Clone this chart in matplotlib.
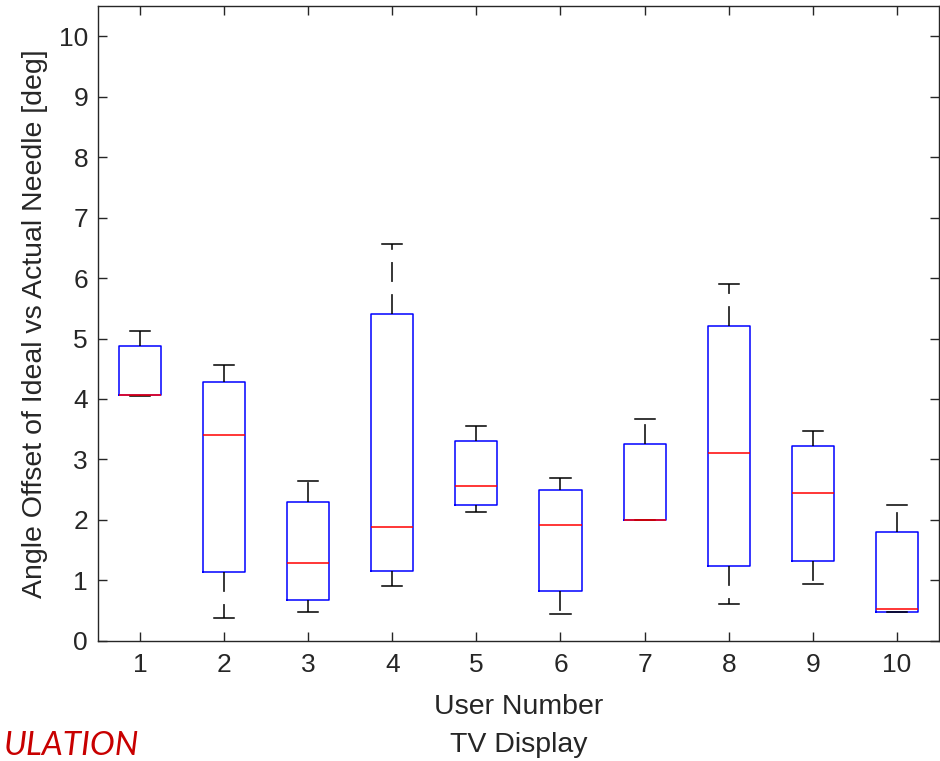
import matplotlib
matplotlib.use('Agg')
import matplotlib.pyplot as plt

plt.rcParams['font.family'] = ['Liberation Sans', 'DejaVu Sans']

users = [1, 2, 3, 4, 5, 6, 7, 8, 9, 10]
whislo = [4.05, 0.38, 0.47, 0.91, 2.13, 0.45, 2.00, 0.61, 0.94, 0.47]
q1 = [4.06, 1.14, 0.68, 1.15, 2.24, 0.82, 2.00, 1.23, 1.32, 0.48]
med = [4.07, 3.41, 1.29, 1.88, 2.56, 1.91, 2.00, 3.10, 2.45, 0.52]
q3 = [4.87, 4.28, 2.30, 5.40, 3.31, 2.49, 3.25, 5.20, 3.22, 1.80]
whishi = [5.13, 4.56, 2.64, 6.57, 3.56, 2.69, 3.67, 5.91, 3.47, 2.24]

stats = []
for i in range(len(users)):
    stats.append(dict(whislo=whislo[i], q1=q1[i], med=med[i], q3=q3[i],
                      whishi=whishi[i], fliers=[], label=str(users[i])))

fig = plt.figure(figsize=(9.4, 7.61), dpi=100)
ax = fig.add_axes([0.104, 0.158, 0.895, 0.834])

ax.bxp(stats, positions=users, widths=0.5, showfliers=False,
       boxprops=dict(color='#0000ff', linewidth=1.1),
       medianprops=dict(color='#ff0000', linewidth=1.1),
       whiskerprops=dict(color='black', linewidth=1.1, linestyle=(0, (13, 8))),
       capprops=dict(color='black', linewidth=1.1),
       capwidths=0.24)

ax.set_xlim(0.5, 10.5)
ax.set_ylim(0, 10.5)
ax.set_yticks(range(0, 11))
ax.set_xticks(users)
ax.set_xticklabels([str(u) for u in users])
ax.tick_params(direction='in', top=True, right=True, length=6.5, width=1,
               labelsize=19, colors='#262626')
ax.tick_params(axis='x', pad=9)
ax.tick_params(axis='y', pad=7)
for s in ax.spines.values():
    s.set_color('#262626')
    s.set_linewidth(1)

ax.set_ylabel('Angle Offset of Ideal vs Actual Needle [deg]', fontsize=20.5,
              color='#262626', labelpad=8)
ax.set_xlabel('User Number\nTV Display', fontsize=20.5, color='#262626',
              linespacing=1.6, labelpad=12)

fig.text(0.004, 0.008, 'ULATION', ha='left', va='baseline', fontsize=24,
         style='italic', color='#c80000', family=['Lato', 'DejaVu Sans'])

fig.savefig('out.png', dpi=100)
